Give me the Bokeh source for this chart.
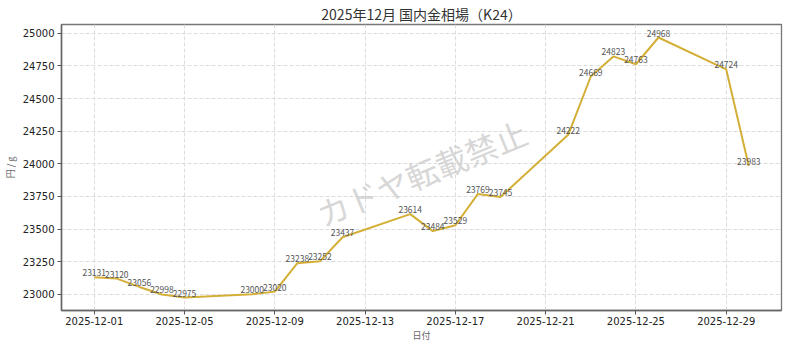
import pandas as pd
from bokeh.plotting import figure
from bokeh.models import (ColumnDataSource, FixedTicker, DatetimeTickFormatter,
                          Range1d, SingleIntervalTicker, Label)
from bokeh.core.properties import value
from bokeh.embed import file_html
from bokeh.resources import INLINE

# ---- data ----
dates = ["2025-12-01", "2025-12-02", "2025-12-03", "2025-12-04", "2025-12-05",
         "2025-12-08", "2025-12-09", "2025-12-10", "2025-12-11", "2025-12-12",
         "2025-12-15", "2025-12-16", "2025-12-17", "2025-12-18", "2025-12-19",
         "2025-12-22", "2025-12-23", "2025-12-24", "2025-12-25", "2025-12-26",
         "2025-12-29", "2025-12-30"]
prices = [23131, 23120, 23056, 22998, 22975,
          23000, 23020, 23238, 23252, 23437,
          23614, 23484, 23529, 23769, 23745,
          24222, 24669, 24823, 24763, 24968,
          24724, 23983]
tick_dates = ["2025-12-01", "2025-12-05", "2025-12-09", "2025-12-13",
              "2025-12-17", "2025-12-21", "2025-12-25", "2025-12-29"]
title_text = "2025年12月 国内金相場（K24）"
x_label = "日付"
y_label = "円 / g"
watermark = "カドヤ転載禁止"

# ---- derived ----
def to_ms(s):
    return pd.Timestamp(s).value / 1e6

xs = [to_ms(d) for d in dates]
source = ColumnDataSource(dict(x=xs, y=prices, label=[str(v) for v in prices]))

xmin, xmax = min(xs), max(xs)
xpad = (xmax - xmin) * 0.05
ymin, ymax = min(prices), max(prices)
ypad = (ymax - ymin) * 0.05

JP = "Noto Sans CJK JP"

p = figure(width=784, height=344, x_axis_type="datetime",
           output_backend="svg", toolbar_location=None,
           title=title_text,
           x_range=Range1d(xmin - xpad, xmax + xpad),
           y_range=Range1d(ymin - ypad, ymax + ypad),
           min_border_left=56, min_border_right=3,
           min_border_top=20, min_border_bottom=31)

p.background_fill_color = "white"
p.border_fill_color = "white"
p.outline_line_color = "#777777"
p.outline_line_width = 1.3

p.title.align = "center"
p.title.text_font = JP
p.title.text_font_size = "14px"
p.title.text_font_style = "normal"
p.title.text_color = "#333333"
p.title.standoff = 2

# watermark
p.add_layout(Label(x=(xmin + xmax) / 2, y=(ymin + ymax) / 2, text=watermark,
                   angle=0.39, text_align="center", text_baseline="middle",
                   y_offset=-5,
                   text_font=JP, text_font_size="32px", text_color="#cccccc",
                   text_alpha=0.8))

p.line("x", "y", source=source, line_color="#D4AF37", line_width=2)
p.text("x", "y", text="label", source=source, text_font=value(JP),
       text_font_size="8.5px", text_color="#555555", text_align="center",
       text_baseline="bottom", y_offset=-1)

# axes
p.xaxis.ticker = FixedTicker(ticks=[to_ms(d) for d in tick_dates])
fmt = "%Y-%m-%d"
p.xaxis.formatter = DatetimeTickFormatter(
    microseconds=fmt, milliseconds=fmt, seconds=fmt, minsec=fmt, minutes=fmt,
    hourmin=fmt, hours=fmt, days=fmt, months=fmt, years=fmt)
p.yaxis.ticker = SingleIntervalTicker(interval=250)

for ax in (p.xaxis, p.yaxis):
    ax.major_label_text_font = "DejaVu Sans"
    ax.major_label_text_font_size = "10px"
    ax.major_label_text_color = "#222222"
    ax.major_tick_out = 4
    ax.major_tick_in = 0
    ax.minor_tick_out = 0
    ax.minor_tick_in = 0
    ax.major_tick_line_color = "#555555"
    ax.axis_line_color = "#666666"
    ax.axis_line_width = 1.5
    ax.axis_label_text_font = JP
    ax.axis_label_text_font_size = "9px"
    ax.axis_label_text_font_style = "normal"
    ax.axis_label_text_color = "#666666"

p.xaxis.major_label_standoff = 2
p.xaxis.axis_label_standoff = 1
p.yaxis.major_label_standoff = 3
p.yaxis.axis_label_standoff = 3

p.xaxis.axis_label = x_label
p.yaxis.axis_label = y_label

for g in (p.xgrid, p.ygrid):
    g.grid_line_color = "#dddddd"
    g.grid_line_dash = "4 2"
    g.grid_line_width = 1

open("out.html", "w").write(file_html(p, INLINE))
